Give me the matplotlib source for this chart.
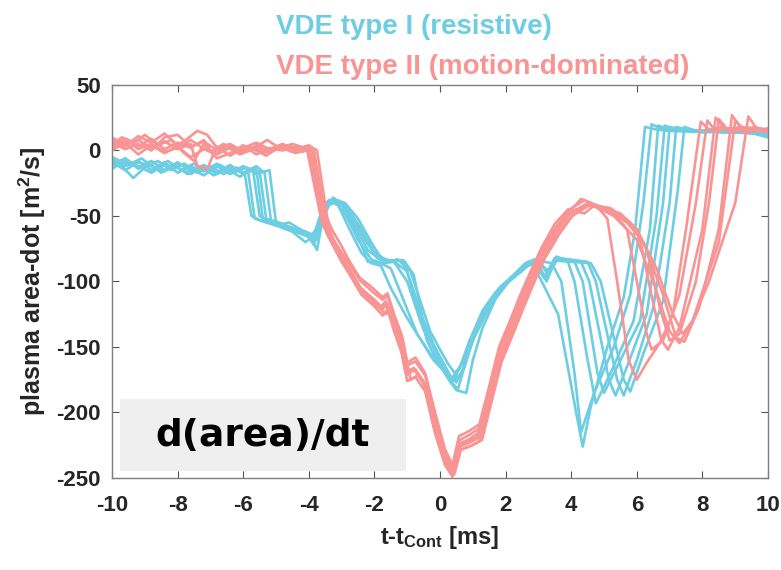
import matplotlib
matplotlib.use("Agg")
import matplotlib.pyplot as plt
from matplotlib import font_manager as fm
from matplotlib.patches import Rectangle

# Curves as (t [ms], area-dot [m^2/s]) knots
cyan_1 = [(-10.0, -8), (-9.7, -12), (-9.35, -21), (-9.0, -13), (-8.6, -8), (-8.2, -15),
          (-7.8, -10), (-7.4, -17), (-7.0, -12), (-6.6, -18), (-6.2, -13), (-5.95, -18),
          (-5.75, -50), (-5.5, -53), (-5.1, -56), (-4.7, -60), (-4.3, -63), (-4.0, -66),
          (-3.8, -62), (-3.6, -45), (-3.4, -38), (-3.1, -42), (-2.8, -58), (-2.4, -78),
          (-2.1, -86), (-1.8, -88), (-1.5, -105), (-1.0, -128), (-0.5, -148), (-0.2, -160),
          (0.1, -168), (0.35, -178), (0.6, -166), (0.9, -145), (1.3, -122), (1.7, -108),
          (2.1, -100), (2.5, -90), (2.8, -86), (3.1, -100), (3.6, -125), (4.15, -200),
          (4.35, -226), (4.6, -195), (5.1, -150), (5.6, -112), (5.95, -60), (6.25, 18),
          (6.6, 16), (7.0, 15), (8.0, 14), (9.0, 15), (10.0, 13)]
cyan_2 = [(-10.0, -12), (-9.6, -6), (-9.2, -14), (-8.9, -9), (-8.5, -17), (-8.1, -11),
          (-7.7, -18), (-7.3, -12), (-6.9, -19), (-6.5, -14), (-6.1, -20), (-5.85, -16),
          (-5.65, -52), (-5.3, -55), (-4.9, -58), (-4.5, -62), (-4.1, -70), (-3.85, -65),
          (-3.65, -50), (-3.45, -40), (-3.2, -39), (-2.9, -48), (-2.5, -68), (-2.1, -83),
          (-1.8, -86), (-1.4, -85), (-1.0, -100), (-0.6, -130), (-0.3, -150), (0.0, -162),
          (0.3, -176), (0.55, -182), (0.8, -160), (1.1, -138), (1.5, -118), (1.9, -103),
          (2.3, -94), (2.7, -85), (3.0, -84), (3.4, -86), (3.7, -100), (4.1, -170),
          (4.3, -215), (4.7, -185), (5.3, -150), (5.8, -110), (6.2, -40), (6.45, 20),
          (6.8, 16), (7.5, 15), (8.5, 14), (10.0, 13)]
cyan_3 = [(-10.0, -5), (-9.5, -11), (-9.1, -6), (-8.7, -14), (-8.3, -8), (-7.9, -15),
          (-7.5, -10), (-7.1, -16), (-6.7, -11), (-6.3, -17), (-5.9, -13), (-5.7, -15),
          (-5.5, -50), (-5.2, -54), (-4.8, -57), (-4.4, -60), (-4.0, -66), (-3.75, -68),
          (-3.5, -48), (-3.3, -37), (-2.9, -40), (-2.5, -52), (-2.1, -70), (-1.7, -86),
          (-1.3, -83), (-0.9, -92), (-0.6, -115), (-0.3, -138), (0.0, -152), (0.25, -163),
          (0.45, -170), (0.7, -162), (1.0, -145), (1.4, -125), (1.8, -108), (2.2, -97),
          (2.6, -88), (3.0, -84), (3.3, -95), (3.6, -82), (3.9, -85), (4.1, -100),
          (4.5, -160), (4.75, -193), (5.2, -170), (5.9, -130), (6.4, -60), (6.65, 19),
          (7.0, 16), (8.0, 15), (9.0, 14), (10.0, 12)]
cyan_4 = [(-10.0, -14), (-9.6, -8), (-9.2, -12), (-8.8, -17), (-8.4, -11), (-8.0, -13),
          (-7.6, -18), (-7.2, -12), (-6.8, -17), (-6.4, -11), (-6.0, -18), (-5.6, -14),
          (-5.4, -53), (-5.0, -57), (-4.6, -55), (-4.2, -61), (-3.9, -64), (-3.7, -58),
          (-3.5, -42), (-3.25, -36), (-2.95, -42), (-2.6, -58), (-2.2, -76), (-1.8, -84),
          (-1.4, -85), (-1.0, -92), (-0.7, -120), (-0.3, -145), (0.0, -160), (0.3, -172),
          (0.5, -177), (0.75, -165), (1.05, -140), (1.4, -120), (1.8, -105), (2.2, -96),
          (2.6, -86), (2.9, -83), (3.25, -100), (3.55, -81), (3.9, -84), (4.1, -85),
          (4.35, -100), (4.8, -170), (5.0, -185), (5.3, -170), (6.1, -130), (6.6, -50),
          (6.85, 19), (7.2, 16), (8.0, 15), (9.0, 14), (10.0, 13)]
cyan_5 = [(-10.0, -9), (-9.6, -15), (-9.2, -9), (-8.8, -12), (-8.4, -16), (-8.0, -10),
          (-7.6, -14), (-7.2, -19), (-6.8, -12), (-6.4, -18), (-6.0, -13), (-5.5, -16),
          (-5.3, -52), (-4.9, -55), (-4.5, -60), (-4.1, -62), (-3.85, -72), (-3.7, -60),
          (-3.5, -45), (-3.3, -39), (-3.0, -41), (-2.7, -55), (-2.4, -72), (-2.2, -85),
          (-1.8, -86), (-1.5, -90), (-1.1, -115), (-0.7, -140), (-0.3, -155), (0.1, -165),
          (0.35, -174), (0.6, -166), (0.95, -145), (1.35, -122), (1.8, -106), (2.2, -98),
          (2.6, -89), (3.0, -85), (3.3, -92), (3.6, -83), (4.0, -84), (4.3, -85),
          (4.55, -100), (5.15, -175), (5.35, -187), (5.7, -165), (6.3, -125), (6.8, -40),
          (7.0, 18), (7.3, 16), (8.0, 14), (9.0, 15), (10.0, 12)]
cyan_6 = [(-10.0, -11), (-9.6, -6), (-9.2, -13), (-8.8, -8), (-8.4, -15), (-8.0, -9),
          (-7.6, -16), (-7.2, -11), (-6.8, -18), (-6.4, -13), (-6.0, -17), (-5.6, -12),
          (-5.35, -17), (-5.15, -54), (-4.8, -57), (-4.4, -61), (-4.0, -65), (-3.8, -67),
          (-3.55, -47), (-3.35, -40), (-3.05, -40), (-2.7, -50), (-2.3, -68), (-1.9, -82),
          (-1.5, -84), (-1.15, -84), (-0.9, -100), (-0.5, -130), (-0.2, -148), (0.1, -162),
          (0.4, -176), (0.65, -170), (0.95, -148), (1.3, -126), (1.7, -110), (2.1, -99),
          (2.5, -90), (2.9, -84), (3.2, -96), (3.5, -82), (3.9, -83), (4.5, -85),
          (4.75, -100), (5.4, -175), (5.6, -187), (6.0, -160), (6.5, -120), (7.0, -40),
          (7.2, 18), (7.5, 16), (8.5, 14), (10.0, 13)]
cyan_7 = [(-10.0, -7), (-9.6, -12), (-9.2, -8), (-8.8, -15), (-8.4, -9), (-8.0, -17),
          (-7.6, -12), (-7.2, -16), (-6.8, -10), (-6.4, -17), (-6.0, -12), (-5.6, -18),
          (-5.2, -15), (-5.0, -55), (-4.6, -58), (-4.2, -62), (-3.9, -68), (-3.75, -76),
          (-3.6, -55), (-3.4, -42), (-3.1, -38), (-2.8, -45), (-2.4, -60), (-2.0, -78),
          (-1.6, -84), (-1.1, -84), (-0.8, -95), (-0.4, -145), (-0.1, -160), (0.2, -172),
          (0.5, -183), (0.8, -185), (1.0, -160), (1.3, -135), (1.7, -113), (2.1, -100),
          (2.5, -92), (2.8, -85), (3.2, -98), (3.5, -84), (4.0, -85), (4.6, -86),
          (4.9, -100), (5.6, -175), (5.8, -184), (6.2, -155), (6.8, -115), (7.25, -30),
          (7.45, 18), (7.8, 15), (8.5, 16), (9.4, 14), (10.0, 10)]

salmon_1 = [(-10.0, 5), (-9.7, 10), (-9.3, 6), (-9.0, 12), (-8.6, 4), (-8.2, 8), (-7.8, -2),
            (-7.5, -8), (-7.2, 5), (-6.8, -6), (-6.4, -2), (-6.0, 4), (-5.6, -3), (-5.2, 2),
            (-4.8, 0), (-4.4, 3), (-4.05, 0), (-3.6, -55), (-3.4, -66), (-3.1, -80),
            (-2.8, -92), (-2.5, -105), (-2.1, -113), (-1.8, -120), (-1.65, -116), (-1.45, -132),
            (-1.2, -150), (-1.05, -170), (-0.8, -167), (-0.5, -178), (-0.2, -210), (0.1, -235),
            (0.35, -247), (0.55, -225), (0.85, -222), (1.15, -218), (1.45, -188), (1.75, -158),
            (2.05, -140), (2.4, -118), (2.7, -100), (3.05, -80), (3.5, -62), (3.9, -48),
            (4.3, -37), (4.6, -40), (4.9, -46), (5.1, -52), (5.4, -100), (5.75, -160),
            (6.0, -175), (6.3, -162), (6.7, -147), (7.1, -125), (7.5, -60), (7.95, 22),
            (8.2, 16), (8.6, 18), (9.0, 15), (9.5, 16), (10.0, 14)]
salmon_2 = [(-10.0, 8), (-9.6, 3), (-9.2, 11), (-8.8, 6), (-8.4, 13), (-8.0, 4), (-7.7, 9),
            (-7.4, 15), (-7.1, 12), (-6.8, 2), (-6.4, 5), (-6.0, -1), (-5.6, 3), (-5.27, 8),
            (-4.9, 2), (-4.5, 5), (-4.0, 1), (-3.55, -52), (-3.35, -64), (-3.05, -76),
            (-2.75, -87), (-2.45, -99), (-2.05, -108), (-1.75, -114), (-1.6, -111), (-1.4, -126),
            (-1.15, -144), (-1.0, -164), (-0.75, -161), (-0.45, -172), (-0.15, -204), (0.15, -231),
            (0.4, -243), (0.6, -221), (0.9, -217), (1.2, -212), (1.5, -182), (1.8, -153),
            (2.1, -135), (2.45, -113), (2.75, -95), (3.1, -76), (3.55, -58), (3.95, -45),
            (4.4, -38), (4.8, -42), (5.2, -45), (5.7, -60), (6.0, -100), (6.3, -140),
            (6.45, -152), (6.8, -145), (7.3, -110), (7.8, -40), (8.15, 23), (8.4, 15),
            (8.8, 17), (9.3, 14), (10.0, 16)]
salmon_3 = [(-10.0, 2), (-9.6, 7), (-9.2, 3), (-8.8, 9), (-8.4, 1), (-8.0, 6), (-7.6, 2),
            (-7.2, 8), (-6.9, -4), (-6.5, 3), (-6.1, -3), (-5.7, 1), (-5.3, -4), (-4.9, 3),
            (-4.5, -1), (-4.1, 2), (-3.95, -2), (-3.5, -57), (-3.3, -70), (-3.0, -85),
            (-2.7, -97), (-2.4, -110), (-2.0, -119), (-1.75, -126), (-1.6, -121), (-1.4, -138),
            (-1.15, -156), (-1.0, -176), (-0.75, -173), (-0.45, -184), (-0.15, -216), (0.15, -240),
            (0.38, -249), (0.58, -229), (0.9, -226), (1.2, -222), (1.5, -193), (1.8, -163),
            (2.1, -145), (2.45, -123), (2.75, -105), (3.1, -85), (3.55, -65), (3.95, -52),
            (4.5, -40), (5.0, -45), (5.5, -50), (6.05, -62), (6.4, -105), (6.75, -145),
            (6.95, -152), (7.3, -135), (8.0, -60), (8.4, 25), (8.7, 16), (9.2, 18),
            (10.0, 15)]
salmon_4 = [(-10.0, 10), (-9.6, 4), (-9.2, 8), (-8.8, 2), (-8.4, 7), (-8.0, 1), (-7.6, 5),
            (-7.4, -12), (-7.1, -14), (-6.8, 3), (-6.4, -4), (-6.0, 2), (-5.6, 6), (-5.2, 1),
            (-4.8, 5), (-4.4, 0), (-4.1, 3), (-3.85, 0), (-3.5, -48), (-3.3, -60), (-3.0, -73),
            (-2.75, -85), (-2.45, -97), (-2.05, -105), (-1.75, -112), (-1.6, -109), (-1.4, -125),
            (-1.15, -142), (-1.0, -162), (-0.75, -158), (-0.45, -170), (-0.15, -200), (0.15, -228),
            (0.38, -240), (0.58, -218), (0.9, -214), (1.2, -209), (1.5, -180), (1.8, -150),
            (2.1, -132), (2.45, -110), (2.75, -93), (3.1, -74), (3.5, -56), (3.9, -45),
            (4.4, -48), (4.7, -42), (5.2, -44), (5.8, -55), (6.3, -75), (6.7, -120),
            (7.0, -145), (7.3, -140), (7.8, -100), (8.2, -40), (8.5, 24), (8.8, 15),
            (9.3, 17), (10.0, 14)]
salmon_5 = [(-10.0, 0), (-9.6, 6), (-9.2, -3), (-8.8, 4), (-8.4, -2), (-8.0, 3), (-7.6, -5),
            (-7.2, 1), (-6.8, -3), (-6.4, 2), (-6.0, -2), (-5.6, 4), (-5.2, -1), (-4.8, 2),
            (-4.4, -2), (-4.0, 1), (-3.85, -1), (-3.5, -54), (-3.3, -66), (-3.0, -80),
            (-2.7, -93), (-2.4, -106), (-2.0, -114), (-1.75, -121), (-1.6, -117), (-1.4, -133),
            (-1.15, -151), (-1.0, -171), (-0.75, -167), (-0.45, -179), (-0.15, -211), (0.15, -236),
            (0.4, -248), (0.6, -226), (0.9, -223), (1.2, -219), (1.5, -189), (1.8, -159),
            (2.1, -141), (2.45, -119), (2.75, -101), (3.1, -81), (3.55, -62), (3.95, -49),
            (4.5, -40), (5.1, -45), (5.7, -55), (6.2, -70), (6.8, -110), (7.2, -143),
            (7.45, -146), (7.9, -120), (8.5, -60), (8.9, 27), (9.2, 16), (9.6, 18),
            (10.0, 15)]
salmon_6 = [(-10.0, 6), (-9.6, 1), (-9.2, 5), (-8.8, 0), (-8.4, 10), (-8.0, 12), (-7.6, 3),
            (-7.2, 7), (-6.8, 0), (-6.4, 4), (-6.0, 0), (-5.6, 2), (-5.2, -2), (-4.8, 4),
            (-4.4, 1), (-4.0, 4), (-3.75, 0), (-3.4, -58), (-3.2, -71), (-2.9, -86),
            (-2.6, -98), (-2.3, -111), (-1.9, -119), (-1.65, -125), (-1.5, -121), (-1.3, -137),
            (-1.05, -156), (-0.9, -175), (-0.65, -171), (-0.35, -182), (-0.05, -214), (0.22, -238),
            (0.44, -247), (0.64, -228), (0.98, -225), (1.28, -221), (1.58, -191), (1.88, -161),
            (2.18, -143), (2.53, -121), (2.83, -103), (3.18, -83), (3.63, -64), (4.03, -50),
            (4.6, -41), (5.3, -50), (6.0, -68), (6.5, -100), (7.0, -138), (7.3, -147),
            (7.7, -130), (8.5, -70), (9.0, 23), (9.3, 15), (9.7, 17), (10.0, 16)]
salmon_7 = [(-10.0, 3), (-9.6, 9), (-9.2, 1), (-8.8, 5), (-8.4, -1), (-8.0, 2), (-7.6, 8),
            (-7.3, 3), (-7.0, -1), (-6.6, 5), (-6.2, 0), (-5.8, 3), (-5.4, -2), (-5.0, 1),
            (-4.6, 4), (-4.2, -1), (-3.9, 2), (-3.55, -53), (-3.35, -65), (-3.05, -79),
            (-2.75, -91), (-2.45, -104), (-2.05, -113), (-1.8, -119), (-1.65, -115), (-1.45, -131),
            (-1.2, -149), (-1.05, -169), (-0.8, -166), (-0.5, -177), (-0.2, -209), (0.1, -234),
            (0.35, -246), (0.55, -224), (0.85, -221), (1.15, -216), (1.45, -187), (1.75, -157),
            (2.05, -139), (2.4, -117), (2.7, -99), (3.05, -79), (3.5, -61), (3.9, -48),
            (4.4, -42), (5.0, -44), (5.5, -48), (6.0, -60), (6.6, -90), (7.1, -125),
            (7.4, -140), (7.7, -130), (8.2, -100), (9.0, -40), (9.4, 26), (9.7, 15),
            (10.0, 17)]

cyan_curves = [cyan_1, cyan_2, cyan_3, cyan_4, cyan_5, cyan_6, cyan_7]
salmon_curves = [salmon_1, salmon_2, salmon_3, salmon_4, salmon_5, salmon_6, salmon_7]

xticks = list(range(-10, 11, 2))
yticks = list(range(-250, 51, 50))

cyan = "#6DCDE2"
salmon = "#F99494"

names = {f.name for f in fm.fontManager.ttflist}
narrow = "Liberation Sans Narrow" if "Liberation Sans Narrow" in names else "Liberation Sans"
plt.rcParams["font.family"] = [narrow, "DejaVu Sans"]
plt.rcParams["axes.unicode_minus"] = False
plt.rcParams["mathtext.fontset"] = "custom"
plt.rcParams["mathtext.rm"] = narrow + ":bold"
plt.rcParams["mathtext.it"] = narrow + ":bold"
plt.rcParams["mathtext.bf"] = narrow + ":bold"

fig = plt.figure(figsize=(7.81, 5.70), dpi=100)
ax = fig.add_axes([0.1434, 0.1614, 0.8400, 0.6895])

for curve in cyan_curves:
    t, y = zip(*curve)
    ax.plot(t, y, color=cyan, lw=1.9, solid_joinstyle="round")
for curve in salmon_curves:
    t, y = zip(*curve)
    ax.plot(t, y, color=salmon, lw=1.9, solid_joinstyle="round")

ax.add_patch(Rectangle((-9.76, -244.7), 8.72, 55, facecolor="#EFEFEF",
                       edgecolor="none", zorder=0))
ax.text(-5.4, -218, "d(area)/dt", fontsize=27, fontweight="bold",
        family="DejaVu Sans", ha="center", va="center", color="black")

ax.set_xlim(-10, 10)
ax.set_ylim(-250, 50)
ax.set_xticks(xticks)
ax.set_yticks(yticks)
ax.tick_params(direction="in", top=True, right=True, length=5, width=0.8,
               color="#555555", labelsize=16, labelcolor="#262626")
ax.tick_params(axis="x", pad=12)
ax.tick_params(axis="y", pad=8)
for lab in ax.get_xticklabels() + ax.get_yticklabels():
    lab.set_fontweight("bold")
for sp in ax.spines.values():
    sp.set_color("#7F7F7F")
    sp.set_linewidth(1.0)

ax.set_xlabel(r"t-t$_{\mathrm{Cont}}$ [ms]", fontsize=17, fontweight="bold",
              color="#262626", labelpad=6)
ax.set_ylabel(r"plasma area-dot [m$^{\mathrm{2}}$/s]", fontsize=18,
              fontweight="bold", color="#262626", labelpad=6)

fig.text(0.353, 0.940, "VDE type I (resistive)", color=cyan, fontsize=20,
         fontweight="bold", ha="left", va="baseline")
fig.text(0.353, 0.870, "VDE type II (motion-dominated)", color=salmon,
         fontsize=20, fontweight="bold", ha="left", va="baseline")

fig.savefig("out.png", dpi=100)
